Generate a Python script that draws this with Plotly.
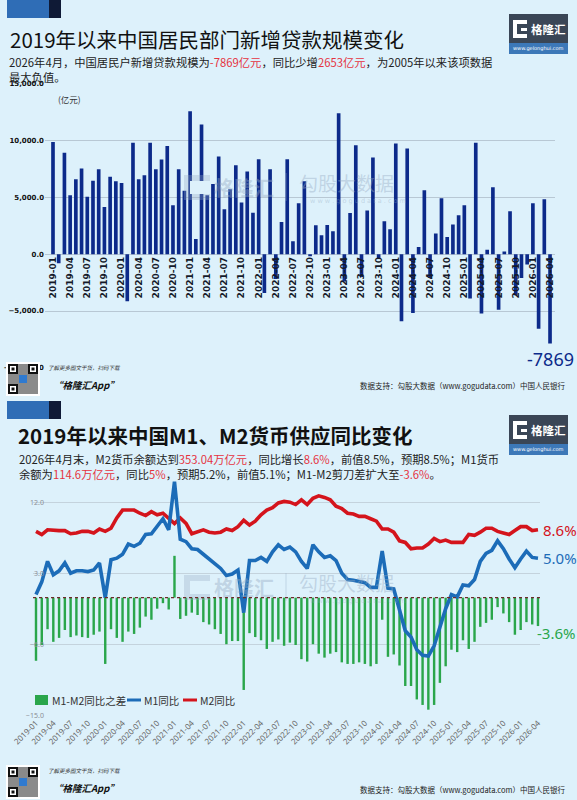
import plotly.graph_objects as go

# ---------------- data ----------------
months = [f"{y}-{m:02d}" for y in range(2019, 2027) for m in range(1, 13)][:88]
tick_months = months[::3]

# 中国居民部门新增贷款（亿元）
household_loans = [
    9898, -800, 8936, 5200, 6615, 7560, 5060, 6470, 7500, 4175, 6820, 6440,
    6290, -4133, 9820, 6615, 6970, 9820, 7500, 8350, 9530, 4320, 7500, 5590,
    12610, 1350, 11440, 5200, 6200, 8610, 3970, 5730, 7850, 4560, 7290, 3650,
    8380, -3410, 7500, -2170, 2850, 8380, 1150, 4500, 6440, -184, 2560, 1680,
    2572, 2030, 12420, -2400, 3630, 9610, -2007, 3850, 8530, -346, 2910, 2200,
    9760, -5907, 9320, -5166, 650, 5650, -2100, 1820, 4940, 1530, 2620, 3440,
    4320, -3891, 9820, -5217, 410, 5910, -4893, 235, 3790, -3600, -2100, -900,
    4500, -6560, 4850, -7869,
]

# M1 / M2 同比（%）
m1_yoy = [
    0.4, 2.0, 4.6, 2.9, 3.4, 4.4, 3.1, 3.4, 3.4, 3.3, 3.5, 4.4,
    0.0, 4.8, 5.0, 5.5, 6.8, 6.5, 6.9, 8.0, 8.1, 9.1, 10.0, 8.6,
    14.7, 7.4, 7.1, 6.2, 6.1, 5.5, 4.9, 4.2, 3.7, 2.8, 3.0, 3.5,
    -1.9, 4.7, 4.7, 5.1, 4.6, 5.8, 6.7, 6.1, 6.4, 5.8, 4.6, 3.7,
    6.7, 5.8, 5.1, 5.3, 4.7, 3.1, 2.3, 2.2, 2.1, 1.9, 1.3, 1.3,
    5.9, 1.2, 1.1, -1.4, -4.2, -5.0, -6.6, -7.3, -7.4, -6.1, -3.7, -1.4,
    0.4, 0.1, 1.6, 1.5, 2.3, 4.6, 5.6, 6.0, 7.2, 6.2, 4.9, 3.8,
    4.9, 5.9, 5.1, 5.0,
]
m2_yoy = [
    8.4, 8.0, 8.6, 8.5, 8.5, 8.5, 8.1, 8.2, 8.4, 8.4, 8.2, 8.7,
    8.4, 8.8, 10.1, 11.1, 11.1, 11.1, 10.7, 10.4, 10.9, 10.5, 10.7, 10.1,
    9.4, 10.1, 9.4, 8.1, 8.3, 8.6, 8.3, 8.2, 8.3, 8.7, 8.5, 9.0,
    9.8, 9.2, 9.7, 10.5, 11.1, 11.4, 12.0, 12.2, 12.1, 11.8, 12.4, 11.8,
    12.6, 12.9, 12.7, 12.4, 11.6, 11.3, 10.7, 10.6, 10.3, 10.3, 10.0, 9.7,
    8.7, 8.7, 8.3, 7.2, 7.0, 6.2, 6.3, 6.3, 6.8, 7.5, 7.1, 7.3,
    7.0, 7.0, 7.0, 8.0, 7.9, 8.3, 8.8, 8.8, 8.4, 8.2, 8.0, 8.5,
    9.0, 9.0, 8.5, 8.6,
]
m1_m2_gap = [
    -8.0, -6.0, -4.0, -5.6, -5.1, -4.1, -5.0, -4.8, -5.0, -5.1, -4.7, -4.3,
    -8.4, -4.0, -5.1, -5.6, -4.3, -4.6, -3.8, -2.4, -2.8, -1.4, -0.7, -1.5,
    5.3, -2.7, -2.3, -1.9, -2.2, -3.1, -3.4, -4.0, -4.6, -5.9, -5.5, -5.5,
    -11.7, -4.5, -5.0, -5.4, -6.5, -5.6, -5.3, -6.1, -5.7, -6.0, -7.8, -8.1,
    -5.9, -7.1, -7.6, -7.1, -6.9, -8.2, -8.4, -8.4, -8.2, -8.4, -8.7, -8.4,
    -2.8, -7.5, -7.2, -8.6, -11.2, -11.2, -12.9, -13.6, -14.2, -13.6, -10.8, -8.7,
    -6.6, -6.9, -5.4, -6.5, -5.6, -3.7, -3.2, -2.8, -1.2, -2.0, -3.1, -4.7,
    -4.1, -3.1, -3.4, -3.6,
]

series_names = ["M1-M2同比之差", "M1同比", "M2同比"]
series_colors = ["#2aa64b", "#1c6cb8", "#d4141c"]

# ---------------- helpers ----------------
W, H = 577, 800
BG = "#ddf1fb"
CJK = "Noto Sans CJK SC"
RED = "#e5333f"
NAVY = "#0c2a8a"


def fx(p):
    return p / W


def fy(p):
    return 1 - p / H


fig = go.Figure()

# ---------------- top chart ----------------
fig.add_trace(go.Bar(
    x=months, y=household_loans, width=0.64,
    marker=dict(color=NAVY, line=dict(width=0)),
    xaxis="x", yaxis="y", showlegend=False, name="新增贷款",
))

# ---------------- bottom chart ----------------
fig.add_trace(go.Bar(
    x=months, y=m1_m2_gap, width=0.42, name=series_names[0],
    marker=dict(color=series_colors[0], line=dict(width=0)),
    xaxis="x2", yaxis="y2", showlegend=False,
))
fig.add_trace(go.Scatter(
    x=months, y=m2_yoy, mode="lines", name=series_names[2],
    line=dict(color=series_colors[2], width=3.6),
    xaxis="x2", yaxis="y2", showlegend=False,
))
fig.add_trace(go.Scatter(
    x=months, y=m1_yoy, mode="lines", name=series_names[1],
    line=dict(color=series_colors[1], width=3.6),
    xaxis="x2", yaxis="y2", showlegend=False,
))

# axes geometry
top_px = (84, 367.8)
y1_range = [-10000, 15000]
y1_dom = [fy(top_px[1]), fy(top_px[0])]
zero_pos = y1_dom[0] + (0 - y1_range[0]) / (y1_range[1] - y1_range[0]) * (y1_dom[1] - y1_dom[0])

grid1 = "#b8c8d4"
grid2 = "#c4d3dd"

fig.update_layout(
    width=W, height=H,
    margin=dict(l=0, r=0, t=0, b=0, autoexpand=False),
    paper_bgcolor=BG, plot_bgcolor=BG,
    font=dict(family=CJK, color="#222"),
    showlegend=False,
    xaxis=dict(
        domain=[fx(45), fx(555)], type="category", range=[-1.4, 87.87],
        anchor="free", position=zero_pos, automargin=False,
        tickmode="array", tickvals=tick_months, ticktext=tick_months,
        tickangle=-90, tickfont=dict(family="DejaVu Sans", size=9, color="#151a2a", weight="bold"),
        showgrid=False, zeroline=False, showline=False, ticks="",
    ),
    yaxis=dict(
        domain=y1_dom, range=y1_range, tickvals=[-10000, -5000, 0, 5000, 10000, 15000],
        tickformat=",.1f", gridcolor=grid1, gridwidth=1, automargin=False,
        zeroline=True, zerolinecolor=grid1, zerolinewidth=1,
        tickfont=dict(family="DejaVu Sans", size=7, color="#111", weight="bold"),
        ticks="", showline=False,
    ),
    xaxis2=dict(
        domain=[fx(33), fx(540)], type="category", range=[-0.52, 87.35],
        anchor="y2", tickmode="array", tickvals=tick_months, ticktext=tick_months,
        tickangle=-45, tickfont=dict(family="Noto Sans", size=8, color="#666"),
        showgrid=False, zeroline=False, showline=False, ticks="", automargin=False,
    ),
    yaxis2=dict(
        domain=[fy(716), fy(479.3)], range=[-15, 15], tickvals=[-15, -6, 3, 12],
        tickformat=".1f", ticksuffix="%", gridcolor=grid2, gridwidth=1,
        zeroline=False, showline=False, ticks="", automargin=False,
        tickfont=dict(family="Noto Sans", size=7, color="#8a8f96"),
    ),
)

shapes = []
annotations = []


def rect(x0, y0, x1, y1, color, layer="above", line=None):
    shapes.append(dict(
        type="rect", xref="paper", yref="paper",
        x0=fx(x0), x1=fx(x1), y0=fy(y1), y1=fy(y0),
        fillcolor=color, line=dict(width=0) if line is None else line, layer=layer,
    ))


def hline(x0, x1, y, color, width):
    shapes.append(dict(type="line", xref="paper", yref="paper", x0=fx(x0), x1=fx(x1),
                       y0=fy(y), y1=fy(y), line=dict(color=color, width=width), layer="above"))


def text(x, y, s, size, color="#222", xanchor="left", yanchor="middle", family=CJK,
         weight="normal", style="normal", align="left"):
    annotations.append(dict(
        xref="paper", yref="paper", x=fx(x), y=fy(y), text=s, showarrow=False,
        xanchor=xanchor, yanchor=yanchor, align=align, borderpad=0,
        font=dict(size=size, color=color, family=family, weight=weight, style=style),
    ))


def deco(y):
    rect(7, y, 49, y + 18, "#2f6db6")
    rect(49, y, 61, y + 18, "#0f1a36")


def logo(y):
    rect(509, y, 568, y + 40, "#3a4656")
    rect(509, y + 29, 568, y + 40, "#3c78b8")
    rect(513, y + 6, 527, y + 24, "#ffffff")
    rect(517, y + 10, 527, y + 20, "#3a4656")
    rect(521, y + 14, 527, y + 17, "#ffffff")
    text(548, y + 15, "格隆汇", 11.5, "#ffffff", xanchor="center", weight="bold")
    text(538.5, y + 34.5, "www.gelonghui.com", 5, "#ffffff", xanchor="center", family="DejaVu Sans")


def qr(x0, y0, s=34):
    rect(x0, y0, x0 + s, y0 + s, "#ffffff")
    rect(x0 + 2, y0 + 2, x0 + s - 2, y0 + s - 2, "#8a8a8a")
    for (qx, qy) in [(x0 + 2, y0 + 2), (x0 + s - 12, y0 + 2), (x0 + 2, y0 + s - 12)]:
        rect(qx, qy, qx + 10, qy + 10, "#111111")
        rect(qx + 2, qy + 2, qx + 8, qy + 8, "#ffffff")
        rect(qx + 3.5, qy + 3.5, qx + 6.5, qy + 6.5, "#111111")
    rect(x0 + 13, y0 + 13, x0 + 21, y0 + 21, "#2f7ad0")


def footer(y):
    qr(6, y)
    text(47, y + 6, "了解更多图文干货，扫码下载", 5.5, "#333", style="italic")
    text(52, y + 23, "“格隆汇App”", 9.5, "#111", weight="bold", style="italic")
    text(566, y + 24, "数据支持：勾股大数据（www.gogudata.com）中国人民银行", 7.5, "#222", xanchor="right")


def watermark(y):
    wm = "rgba(150,172,196,0.42)"
    rect(184, y - 12, 210, y + 13, "rgba(150,172,196,0.32)")
    rect(190, y - 6, 210, y + 7, BG)
    text(213, y, "格隆汇", 20, wm, weight="bold")
    shapes.append(dict(type="line", xref="paper", yref="paper", x0=fx(286), x1=fx(286),
                       y0=fy(y + 14), y1=fy(y - 14), line=dict(color=wm, width=1)))
    text(298, y - 5, "勾股大数据", 19, wm)
    text(309, y + 14, "w w w . g o g u d a t a . c o m", 6.5, wm, family="DejaVu Sans")


# ---- panel 1 decorations and text ----
deco(0)
logo(14)
text(9, 39, "2019年以来中国居民部门新增贷款规模变化", 20.5, "#111")
text(8, 53,
     "2026年4月，中国居民户新增贷款规模为<span style='color:%s'>-7869亿元</span>，同比少增"
     "<span style='color:%s'>2653亿元</span>，为2005年以来该项数据<br>最大负值。" % (RED, RED),
     11.3, "#222", yanchor="top")
text(57, 99, "(亿元)", 8.5, "#333")
watermark(187)
footer(362)

annotations.append(dict(
    xref="x", yref="y", x=months[-1], y=household_loans[-1], text=str(household_loans[-1]),
    showarrow=False, xanchor="center", yanchor="top", yshift=-1,
    font=dict(size=18, color=NAVY, family="Noto Sans"),
))

# ---- panel 2 decorations and text ----
deco(401)
logo(415)
text(17, 435, "2019年以来中国M1、M2货币供应同比变化", 20.5, "#111", weight="bold")
text(18, 450,
     "2026年4月末，M2货币余额达到<span style='color:%s'>353.04万亿元</span>，同比增长"
     "<span style='color:%s'>8.6%%</span>，前值8.5%%，预期8.5%%；M1货币<br>"
     "余额为<span style='color:%s'>114.6万亿元</span>，同比<span style='color:%s'>5%%</span>，"
     "预期5.2%%，前值5.1%%；M1-M2剪刀差扩大至<span style='color:%s'>-3.6%%</span>。"
     % (RED, RED, RED, RED, RED),
     11.3, "#222", yanchor="top")
watermark(587)
footer(765)

# zero reference line (dotted)
shapes.append(dict(type="line", xref="x2 domain", yref="y2", x0=0, x1=1, y0=0, y1=0,
                   line=dict(color="#6e2a2a", width=1.2, dash="dot"), layer="above"))

# custom compact legend
rect(35, 695, 48, 705, series_colors[0])
text(51, 700, series_names[0], 10.5, "#333")
hline(127, 141, 700, series_colors[1], 3)
text(143, 700, series_names[1], 10.5, "#333")
hline(183, 197, 700, series_colors[2], 3)
text(199, 700, series_names[2], 10.5, "#333")

# end-of-series labels
for series, color, yshift in [(m2_yoy, series_colors[2], 0), (m1_yoy, series_colors[1], 0),
                              (m1_m2_gap, series_colors[0], -7)]:
    annotations.append(dict(
        xref="x2", yref="y2", x=months[-1], y=series[-1], text=f"{series[-1]:.1f}%",
        showarrow=False, xanchor="left", yanchor="middle",
        xshift=3 if yshift == 0 else -3, yshift=yshift,
        font=dict(size=15, color=color, family="Noto Sans"),
    ))

fig.update_layout(shapes=shapes, annotations=annotations)
fig.write_html(
    "out.html",
    config={"displayModeBar": False},
    post_script="document.body.style.margin='0';document.body.style.overflow='hidden';",
)
